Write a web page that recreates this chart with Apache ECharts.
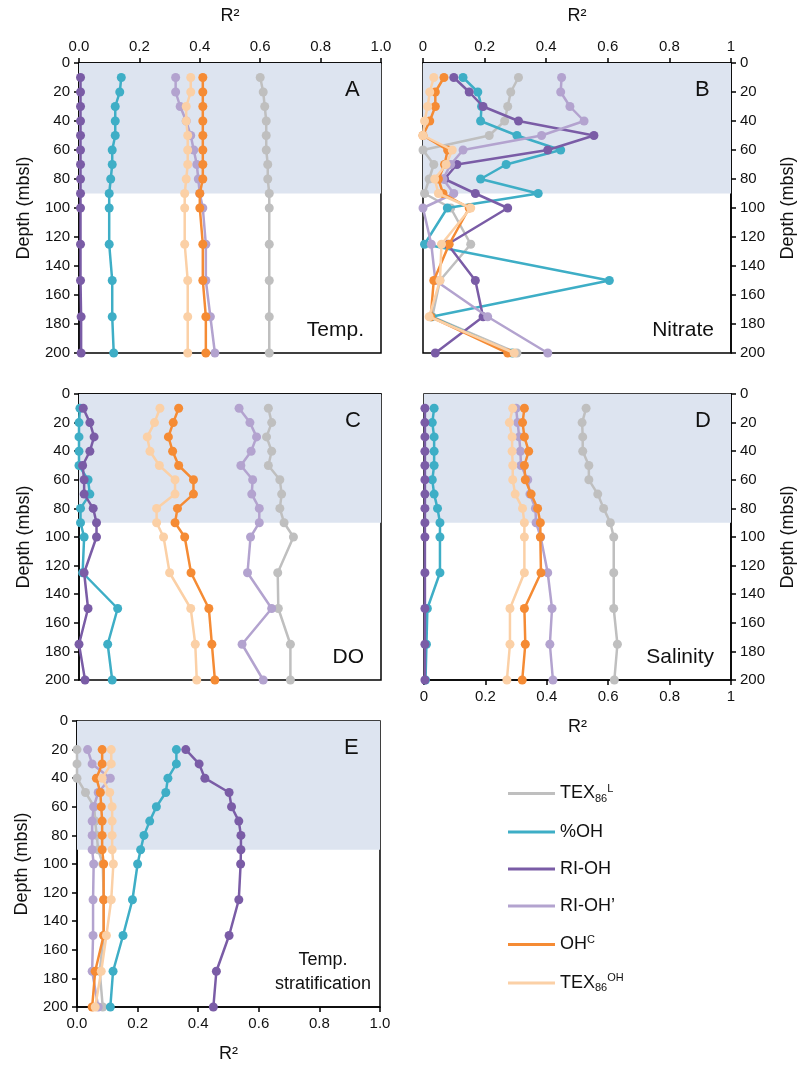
<!DOCTYPE html>
<html>
<head>
<meta charset="utf-8">
<script src="https://cdn.jsdelivr.net/npm/echarts@6/dist/echarts.min.js"></script>
<style>
  html, body { margin: 0; padding: 0; background: #fff; }
  #main { width: 809px; height: 1070px; }
</style>
</head>
<body>
<div id="main"></div>
<script>
// sampling depths (m)
var depths = [10, 20, 30, 40, 50, 60, 70, 80, 90, 100, 125, 150, 175, 200];
var depthsE = [20, 30, 40, 50, 60, 70, 80, 90, 100, 125, 150, 175, 200];

// A - Temp.
var tempTEX86L  = [0.60, 0.61, 0.615, 0.62, 0.62, 0.62, 0.625, 0.625, 0.63, 0.63, 0.63, 0.63, 0.63, 0.63];
var tempOH      = [0.14, 0.135, 0.12, 0.12, 0.12, 0.11, 0.11, 0.105, 0.10, 0.10, 0.10, 0.11, 0.11, 0.115];
var tempRIOH    = [0.005, 0.005, 0.005, 0.005, 0.005, 0.005, 0.005, 0.005, 0.005, 0.005, 0.005, 0.005, 0.007, 0.007];
var tempRIOH2   = [0.32, 0.32, 0.335, 0.355, 0.37, 0.38, 0.39, 0.395, 0.40, 0.41, 0.42, 0.42, 0.435, 0.45];
var tempOHC     = [0.41, 0.41, 0.41, 0.41, 0.41, 0.41, 0.41, 0.41, 0.40, 0.40, 0.41, 0.41, 0.42, 0.42];
var tempTEX86OH = [0.37, 0.37, 0.355, 0.355, 0.36, 0.36, 0.36, 0.355, 0.35, 0.35, 0.35, 0.36, 0.36, 0.36];

// B - Nitrate
var nitTEX86L  = [0.31, 0.285, 0.275, 0.265, 0.215, 0.0, 0.035, 0.02, 0.005, 0.09, 0.155, 0.055, 0.03, 0.305];
var nitOH      = [0.13, 0.178, 0.19, 0.187, 0.305, 0.447, 0.27, 0.187, 0.374, 0.079, 0.005, 0.605, 0.027, 0.29];
var nitRIOH    = [0.10, 0.15, 0.195, 0.31, 0.555, 0.405, 0.11, 0.07, 0.17, 0.275, 0.08, 0.17, 0.195, 0.04];
var nitRIOH2   = [0.45, 0.447, 0.477, 0.523, 0.385, 0.13, 0.09, 0.065, 0.10, 0.0, 0.027, 0.04, 0.21, 0.405];
var nitOHC     = [0.068, 0.04, 0.04, 0.022, 0.0, 0.08, 0.07, 0.05, 0.065, 0.15, 0.085, 0.035, 0.025, 0.275];
var nitTEX86OH = [0.035, 0.022, 0.015, 0.005, 0.0, 0.095, 0.075, 0.038, 0.05, 0.155, 0.06, 0.055, 0.02, 0.296];

// C - DO
var doTEX86L  = [0.627, 0.638, 0.621, 0.638, 0.627, 0.665, 0.671, 0.665, 0.679, 0.71, 0.658, 0.66, 0.70, 0.70];
var doOH      = [0.003, 0.0, 0.0, 0.0, 0.0, 0.03, 0.036, 0.005, 0.005, 0.017, 0.012, 0.128, 0.095, 0.11];
var doRIOH    = [0.014, 0.036, 0.05, 0.036, 0.012, 0.017, 0.017, 0.047, 0.058, 0.058, 0.017, 0.03, 0.0, 0.02];
var doRIOH2   = [0.53, 0.566, 0.588, 0.57, 0.536, 0.575, 0.572, 0.597, 0.597, 0.568, 0.558, 0.638, 0.54, 0.61];
var doOHC     = [0.33, 0.312, 0.296, 0.31, 0.33, 0.379, 0.379, 0.326, 0.318, 0.35, 0.371, 0.43, 0.44, 0.45];
var doTEX86OH = [0.268, 0.25, 0.226, 0.235, 0.266, 0.318, 0.318, 0.257, 0.257, 0.28, 0.30, 0.37, 0.385, 0.39];

// D - Salinity
var salTEX86L  = [0.528, 0.515, 0.517, 0.517, 0.537, 0.537, 0.566, 0.585, 0.607, 0.618, 0.618, 0.618, 0.63, 0.62];
var salOH      = [0.033, 0.027, 0.033, 0.033, 0.033, 0.027, 0.033, 0.044, 0.052, 0.052, 0.052, 0.011, 0.008, 0.005];
var salRIOH    = [0.003, 0.003, 0.003, 0.003, 0.003, 0.003, 0.003, 0.003, 0.003, 0.003, 0.003, 0.003, 0.003, 0.003];
var salRIOH2   = [0.30, 0.305, 0.31, 0.314, 0.316, 0.338, 0.345, 0.363, 0.365, 0.38, 0.403, 0.417, 0.41, 0.42];
var salOHC     = [0.327, 0.321, 0.327, 0.341, 0.327, 0.33, 0.349, 0.37, 0.379, 0.379, 0.381, 0.327, 0.33, 0.32];
var salTEX86OH = [0.289, 0.278, 0.287, 0.287, 0.289, 0.289, 0.297, 0.321, 0.327, 0.327, 0.327, 0.28, 0.28, 0.27];

// E - Temp. stratification (starts at 20 m)
var strTEX86L  = [0.0, 0.0, 0.0, 0.028, 0.057, 0.06, 0.065, 0.07, 0.085, 0.088, 0.088, 0.075, 0.085];
var strOH      = [0.328, 0.328, 0.30, 0.293, 0.262, 0.24, 0.221, 0.21, 0.20, 0.183, 0.152, 0.119, 0.11];
var strRIOH    = [0.359, 0.403, 0.422, 0.502, 0.51, 0.534, 0.541, 0.541, 0.54, 0.534, 0.502, 0.46, 0.45];
var strRIOH2   = [0.035, 0.05, 0.11, 0.07, 0.055, 0.05, 0.05, 0.05, 0.055, 0.053, 0.053, 0.05, 0.07];
var strOHC     = [0.083, 0.083, 0.064, 0.077, 0.08, 0.083, 0.083, 0.083, 0.088, 0.088, 0.088, 0.06, 0.05];
var strTEX86OH = [0.113, 0.113, 0.083, 0.108, 0.116, 0.116, 0.116, 0.116, 0.12, 0.113, 0.097, 0.08, 0.06];

var names = ['TEX86L', '%OH', 'RI-OH', "RI-OH'", 'OHC', 'TEX86OH'];
var colors = ['#bfbfbf', '#3eaec6', '#7a5ca6', '#b3a3cf', '#f58b34', '#fbd0a6'];

var panels = [
    {letter: 'A', label: ['Temp.'], y: depths, data: [tempTEX86L, tempOH, tempRIOH, tempRIOH2, tempOHC, tempTEX86OH]},
    {letter: 'B', label: ['Nitrate'], y: depths, data: [nitTEX86L, nitOH, nitRIOH, nitRIOH2, nitOHC, nitTEX86OH]},
    {letter: 'C', label: ['DO'], y: depths, data: [doTEX86L, doOH, doRIOH, doRIOH2, doOHC, doTEX86OH]},
    {letter: 'D', label: ['Salinity'], y: depths, data: [salTEX86L, salOH, salRIOH, salRIOH2, salOHC, salTEX86OH]},
    {letter: 'E', label: ['Temp.', 'stratification'], y: depthsE, data: [strTEX86L, strOH, strRIOH, strRIOH2, strOHC, strTEX86OH]}
];

// grid boxes
var grids = [
    {left: 79, top: 63, width: 302, height: 290},
    {left: 423, top: 63, width: 308, height: 290},
    {left: 79, top: 394, width: 302, height: 286},
    {left: 424, top: 394, width: 307, height: 286},
    {left: 77, top: 721, width: 303, height: 286}
];
var xPos = ['top', 'top', 'top', 'bottom', 'bottom'];
var xShowLabel = [true, true, false, true, true];
var yPos = ['left', 'right', 'left', 'right', 'left'];
var oneDecimal = [true, false, true, false, true];

var font = 'Liberation Sans, Arial, Helvetica, sans-serif';

var myChart = echarts.init(document.getElementById('main'), null, {renderer: 'canvas'});

var option = {
    backgroundColor: '#fff',
    animation: false,
    textStyle: {fontFamily: font},
    grid: [],
    xAxis: [],
    yAxis: [],
    series: [],
    graphic: [],
    legend: {
        data: names,
        orient: 'vertical',
        left: 503,
        top: 778,
        icon: 'rect',
        itemWidth: 47,
        itemHeight: 3,
        itemGap: 19,
        textStyle: {
            fontFamily: font,
            fontSize: 18,
            color: '#111',
            rich: {
                b: {fontSize: 18, lineHeight: 21, fontFamily: font, color: '#111'},
                sub: {fontSize: 11, lineHeight: 11, verticalAlign: 'bottom', fontFamily: font, color: '#111'},
                sup: {fontSize: 11, lineHeight: 11, verticalAlign: 'top', fontFamily: font, color: '#111'}
            }
        },
        formatter: function (name) {
            if (name === 'TEX86L') return '{b|TEX}{sub|86}{sup|L}';
            if (name === 'TEX86OH') return '{b|TEX}{sub|86}{sup|OH}';
            if (name === 'OHC') return '{b|OH}{sup|C}';
            if (name === "RI-OH'") return '{b|RI-OH\u2019}';
            return '{b|' + name + '}';
        }
    }
};

panels.forEach(function (p, i) {
    var g = grids[i];
    option.grid.push({
        left: g.left, top: g.top, width: g.width, height: g.height,
        show: true, borderColor: '#000', borderWidth: 1.5, backgroundColor: 'transparent'
    });
    option.xAxis.push({
        gridIndex: i,
        type: 'value',
        min: 0, max: 1, interval: 0.2,
        position: xPos[i],
        name: xShowLabel[i] ? 'R\u00b2' : '',
        nameLocation: 'middle',
        nameGap: 38,
        nameTextStyle: {fontSize: 18, color: '#111', fontFamily: font},
        axisLine: {show: true, onZero: false, lineStyle: {color: '#000', width: 1.5}},
        axisTick: {show: xShowLabel[i], inside: false, length: 5, lineStyle: {color: '#000', width: 1.5}},
        axisLabel: {
            show: xShowLabel[i], fontSize: 15, color: '#111', margin: 9, fontFamily: font,
            formatter: function (v) { return oneDecimal[i] ? v.toFixed(1) : String(+v.toFixed(1)); }
        },
        splitLine: {show: false}
    });
    option.yAxis.push({
        gridIndex: i,
        type: 'value',
        inverse: true,
        min: 0, max: 200, interval: 20,
        position: yPos[i],
        name: 'Depth (mbsl)',
        nameLocation: 'middle',
        nameRotate: 90,
        nameGap: yPos[i] === 'left' ? 46 : 48,
        nameTextStyle: {fontSize: 18, color: '#111', fontFamily: font},
        axisLine: {show: true, onZero: false, lineStyle: {color: '#000', width: 1.5}},
        axisTick: {show: true, length: 5, lineStyle: {color: '#000', width: 1.5}},
        axisLabel: {fontSize: 15, color: '#111', margin: 9, fontFamily: font},
        splitLine: {show: false}
    });
    // shaded 0-90 m band
    option.series.push({
        type: 'line', xAxisIndex: i, yAxisIndex: i, data: [], z: 0, silent: true,
        markArea: {
            silent: true,
            itemStyle: {color: '#dde4f0'},
            data: [[{xAxis: 0, yAxis: 0}, {xAxis: 1, yAxis: 90}]]
        }
    });
    p.data.forEach(function (vals, k) {
        option.series.push({
            name: names[k],
            type: 'line',
            xAxisIndex: i, yAxisIndex: i,
            z: 2 + k,
            symbol: 'circle',
            symbolSize: 9,
            color: colors[k],
            lineStyle: {width: 2.5, color: colors[k]},
            itemStyle: {color: colors[k]},
            data: vals.map(function (v, j) { return [v, p.y[j]]; })
        });
    });
    // panel letter and variable name
    option.graphic.push({
        type: 'text', left: g.left + g.width - 36, top: g.top + 16, z: 100,
        style: {text: p.letter, fontSize: 22, fill: '#111', font: '22px ' + font}
    });
    if (p.label.length === 1) {
        option.graphic.push({
            type: 'text', right: 809 - (g.left + g.width) + 17, top: g.top + g.height - 33, z: 100,
            style: {text: p.label[0], textAlign: 'right', fill: '#111', font: '21px ' + font}
        });
    } else {
        option.graphic.push({
            type: 'text', left: g.left + g.width - 105, top: g.top + g.height - 59, z: 100,
            style: {text: p.label.join('\n'), textAlign: 'center', lineHeight: 24, fill: '#111', font: '18px ' + font}
        });
    }
});

myChart.setOption(option);
</script>
</body>
</html>
